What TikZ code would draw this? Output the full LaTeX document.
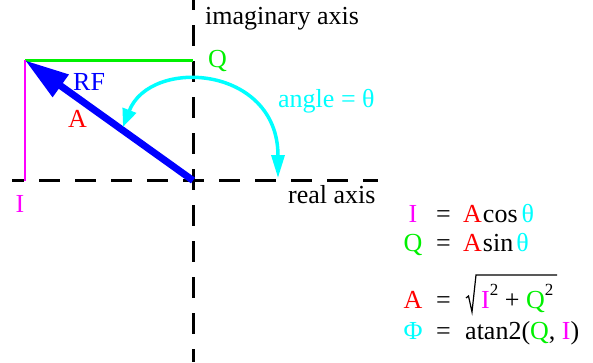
\documentclass[tikz,border=0pt]{standalone}
\usepackage{fontspec}
\setmainfont{Liberation Serif}
\usetikzlibrary{arrows.meta}
\definecolor{cmag}{RGB}{255,0,255}
\definecolor{cred}{RGB}{255,0,0}
\definecolor{cgreen}{RGB}{0,240,0}
\definecolor{ccyan}{RGB}{0,255,255}
\definecolor{cblue}{RGB}{0,0,255}
\newcommand\mysq{\raisebox{13pt}{\fontsize{17}{17}\selectfont 2}}
\begin{document}
\begin{tikzpicture}[x=1pt,y=-1pt,
  lbl/.style={inner sep=0pt, font=\fontsize{26}{26}\selectfont},
  axisline/.style={line width=3pt, dash pattern=on 20.5pt off 15.5pt},
  legline/.style={line width=2.7pt}]
\useasboundingbox (0,0) rectangle (593,362);
% key points
\coordinate (O) at (193,180.5);
\coordinate (T) at (25,60.3);
\coordinate (Hl) at (12,180.5);
\coordinate (Hr) at (378,180.5);
\coordinate (Vt) at (193,0);
\coordinate (Vb) at (193,362);
\coordinate (Qp) at (193,60.3);
\coordinate (Ip) at (25,180.5);
\coordinate (C1) at (123,127);
\coordinate (C2) at (278,178);
\coordinate (K1) at (150,57);
\coordinate (K2) at (278,65);
% axes
\draw[axisline, dash phase=9pt] (Hl) -- (Hr);
\draw[axisline, dash phase=11pt] (Vt) -- (Vb);
% components
\draw[legline, cgreen] (T) -- (Qp);
\draw[legline, cmag] (T) -- (Ip);
% vector
\draw[cblue, line width=7pt, -{Triangle[length=44pt,width=26pt]}] (O) -- (T);
% angle arc
\draw[ccyan, line width=3.5pt, {Triangle[length=18pt,width=14pt]}-{Triangle[length=23pt,width=13pt]}]
  (C1) .. controls (K1) and (K2) .. (C2);
% labels
\node[lbl, anchor=base west] (imag) at (205,24) {imaginary axis};
\node[lbl, anchor=base west, text=cgreen] (Qlbl) at (208,67) {Q};
\node[lbl, anchor=base west, text=ccyan] (ang) at (278,107) {angle = θ};
\node[lbl, anchor=base west] (real) at (288,203) {real axis};
\node[lbl, anchor=base west, text=cblue] (RF) at (73,90) {RF};
\node[lbl, anchor=base west, text=cred] (Albl) at (68,127) {A};
\node[lbl, anchor=base, text=cmag] (Ilbl) at (20,212) {I};
% equations
\node[lbl, anchor=base, text=cmag] (e1l) at (413,222) {I};
\node[lbl, anchor=base west] (e1e) at (436,222) {=};
\node[lbl, anchor=base west] (e1r) at (463,222) {\textcolor{cred}{A}\hspace{1pt}cos\hspace{4pt}\textcolor{ccyan}{θ}};
\node[lbl, anchor=base, text=cgreen] (e2l) at (413,251) {Q};
\node[lbl, anchor=base west] (e2e) at (436,251) {=};
\node[lbl, anchor=base west] (e2r) at (463,251) {\textcolor{cred}{A}\hspace{1pt}sin\hspace{3pt}\textcolor{ccyan}{θ}};
\node[lbl, anchor=base, text=cred] (e3l) at (413,308) {A};
\node[lbl, anchor=base west] (e3e) at (436,308) {=};
\node[lbl, anchor=base west] (e3r) at (481,308) {\textcolor{cmag}{I}\mysq{} + \textcolor{cgreen}{Q}\mysq};
\draw[line width=1.2pt, line join=miter] (466,298) -- (468.5,296) -- (472,312) -- (476,275) -- (557,275);
\node[lbl, anchor=base, text=ccyan] (e4l) at (413,339) {Φ};
\node[lbl, anchor=base west] (e4e) at (436,339) {=};
\node[lbl, anchor=base west] (e4r) at (465,339) {atan2(\textcolor{cgreen}{Q}, \textcolor{cmag}{I})};
\end{tikzpicture}
\end{document}
